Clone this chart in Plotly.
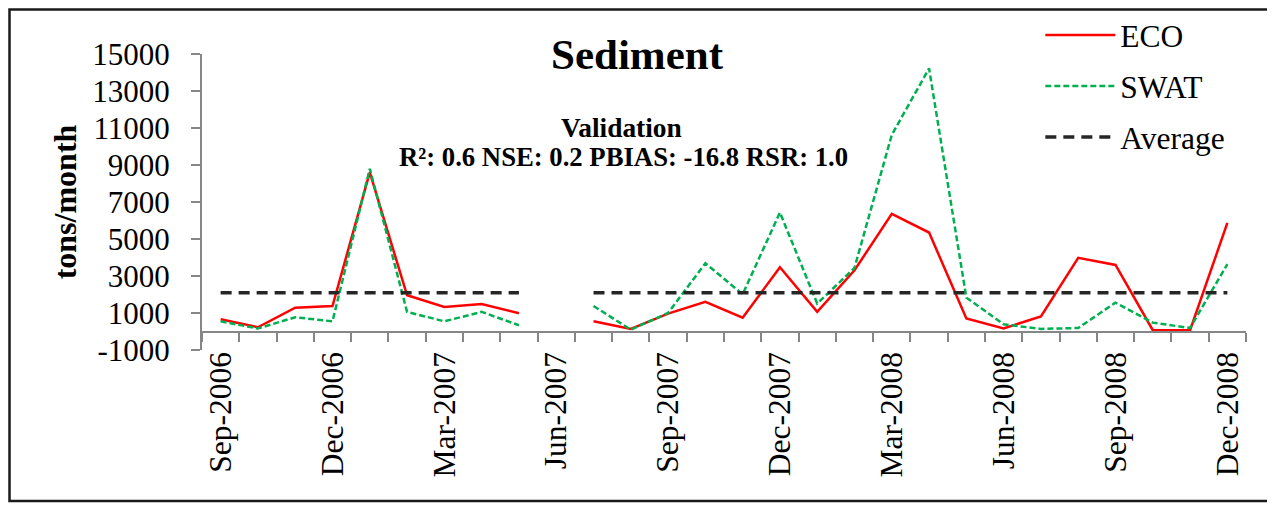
import plotly.graph_objects as go

months = ["Sep-2006", "Oct-2006", "Nov-2006", "Dec-2006", "Jan-2007", "Feb-2007", "Mar-2007",
          "Apr-2007", "May-2007", "Jun-2007", "Jul-2007", "Aug-2007", "Sep-2007", "Oct-2007",
          "Nov-2007", "Dec-2007", "Jan-2008", "Feb-2008", "Mar-2008", "Apr-2008", "May-2008",
          "Jun-2008", "Jul-2008", "Aug-2008", "Sep-2008", "Oct-2008", "Nov-2008", "Dec-2008"]

eco = [660, 230, 1290, 1380, 8600, 1960, 1330, 1490, 990, None,
       550, 140, 970, 1600, 750, 3470, 1060, 3310, 6360, 5350,
       700, 170, 820, 3980, 3600, 70, 70, 5870]

swat = [550, 160, 770, 550, 8800, 1060, 550, 1060, 340, None,
        1380, 100, 1000, 3690, 2010, 6430, 1510, 3440, 10630, 14220,
        1830, 390, 140, 190, 1560, 480, 190, 3640]

average = [2100] * 9 + [None] + [2100] * 18

y_ticks = list(range(-1000, 15001, 2000))
y_labels = [str(v) for v in y_ticks]
x_labels = [m if i % 3 == 0 else "" for i, m in enumerate(months)]

FONT = "Liberation Serif, Times New Roman, serif"
AXIS_GREY = "#868686"
TICK_SIZE = 31

# page body has an 8px margin: figure is sized so that it fills the 1275x506 window
W, H = 1267, 498
PL, PT, PW, PH = 194, 46, 1044, 296

fig = go.Figure()
fig.add_trace(go.Scatter(x=months, y=eco, name="ECO", mode="lines",
                         line=dict(color="#FF0000", width=2.5), legendgroup="a"))
fig.add_trace(go.Scatter(x=months, y=swat, name="SWAT", mode="lines",
                         line=dict(color="#00B050", width=2.5, dash="6px,3px"), legendgroup="b"))
fig.add_trace(go.Scatter(x=months, y=average, name="Average", mode="lines",
                         line=dict(color="#262626", width=3.5, dash="11px,7px"), legendgroup="c"))

fig.update_layout(
    width=W, height=H,
    margin=dict(l=PL, r=W - PL - PW, t=PT, b=H - PT - PH, autoexpand=False),
    paper_bgcolor="white", plot_bgcolor="white",
    font=dict(family=FONT, size=30, color="black"),
    showlegend=True,
    legend=dict(x=0.803, y=1.155, xanchor="left", yanchor="top",
                font=dict(family=FONT, size=31.5, color="black"),
                bgcolor="rgba(0,0,0,0)", itemwidth=70, tracegroupgap=7,
                traceorder="grouped"),
    xaxis=dict(
        type="category", categoryorder="array", categoryarray=months,
        range=[-0.5, len(months) - 0.5],
        anchor="free", position=1000 / 16000,
        showline=True, linecolor=AXIS_GREY, linewidth=2,
        ticks="outside", ticklen=9, tickwidth=2, tickcolor=AXIS_GREY,
        tickson="boundaries",
        tickmode="array", tickvals=months, ticktext=x_labels,
        tickangle=-90, tickfont=dict(family=FONT, size=31.5, color="black"),
        ticklabelstandoff=7, automargin=False,
        showgrid=False, zeroline=False,
    ),
    yaxis=dict(
        range=[-1000, 15000],
        showline=True, linecolor=AXIS_GREY, linewidth=2,
        ticks="outside", ticklen=9, tickwidth=2, tickcolor=AXIS_GREY,
        tickmode="array", tickvals=y_ticks, ticktext=y_labels,
        tickfont=dict(family=FONT, size=TICK_SIZE, color="black"),
        ticklabelstandoff=15, automargin=True,
        showgrid=False, zeroline=False,
        title=dict(text="<b>tons/month</b>", font=dict(family=FONT, size=32, color="black"),
                   standoff=6),
    ),
    annotations=[
        dict(text="<b>Sediment</b>", x=0.4176, y=1.0, xref="paper", yref="paper",
             xanchor="center", yanchor="middle", showarrow=False,
             font=dict(family=FONT, size=43, color="black")),
        dict(text="<b>Validation</b>", x=0.4018, y=0.75, xref="paper", yref="paper",
             xanchor="center", yanchor="middle", showarrow=False,
             font=dict(family=FONT, size=27.4, color="black")),
        dict(text="<b>R²: 0.6 NSE: 0.2 PBIAS: -16.8 RSR: 1.0</b>", x=0.4042, y=0.653,
             xref="paper", yref="paper", xanchor="center", yanchor="middle", showarrow=False,
             font=dict(family=FONT, size=26.7, color="black")),
    ],
    shapes=[
        dict(type="rect", xref="paper", yref="paper",
             x0=(1.5 - PL) / PW, x1=(1261.3 - PL) / PW,
             y0=(PT + PH - 493) / PH, y1=(PT + PH - 1.5) / PH,
             line=dict(color="#1a1a1a", width=2.5), fillcolor="rgba(0,0,0,0)", layer="below"),
    ],
)

fig.write_html("out.html")
